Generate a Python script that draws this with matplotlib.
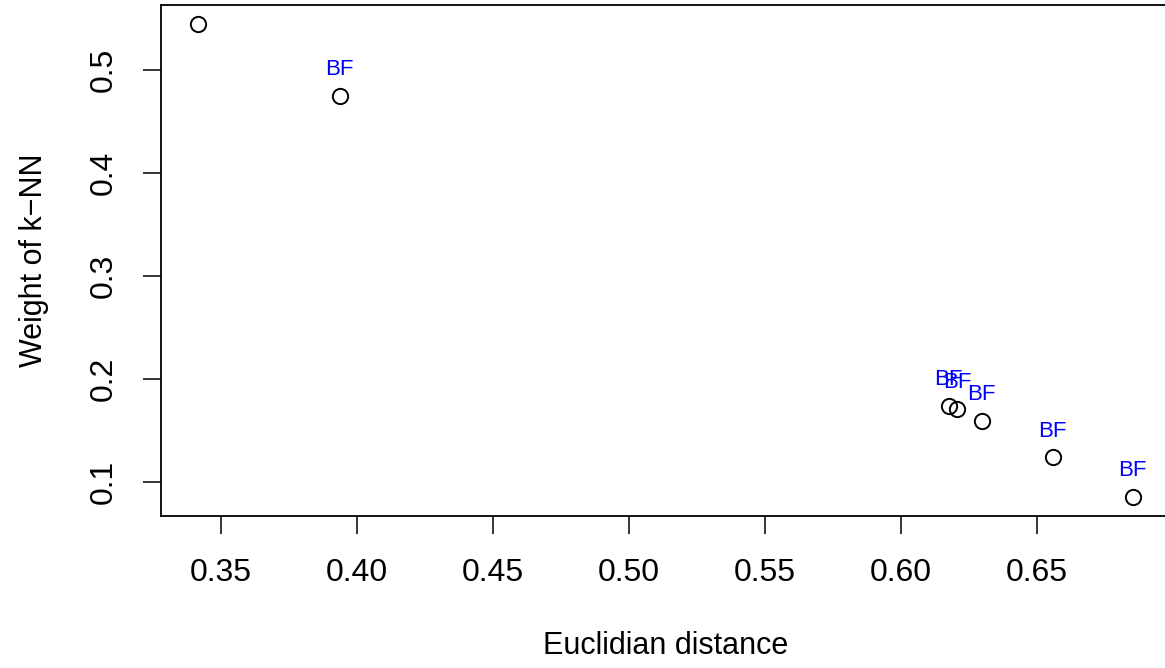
import numpy as np
import matplotlib.pyplot as plt

plt.rcParams['font.family'] = ['Liberation Sans', 'DejaVu Sans']

# euclidian distance vs weight of k-NN
dist = [0.3416, 0.3937, 0.6176, 0.6206, 0.6297, 0.6558, 0.6852]
weight = [0.5447, 0.4748, 0.174, 0.171, 0.159, 0.124, 0.0855]
labels = ['', 'BF', 'BF', 'BF', 'BF', 'BF', 'BF']

xticks = [0.35, 0.40, 0.45, 0.50, 0.55, 0.60, 0.65]
yticks = [0.1, 0.2, 0.3, 0.4, 0.5]

fig = plt.figure(figsize=(11.65, 6.68), dpi=100)
# right edge of the box falls just outside the image, like the original
ax = fig.add_axes([0.138, 0.2275, 0.8664, 0.765])

ax.plot(dist, weight, linestyle='none', marker='o', markersize=11,
        markerfacecolor='none', markeredgecolor='black', markeredgewidth=1.4)
for x, y, lab in zip(dist, weight, labels):
    if lab:
        ax.annotate(lab, (x, y), xytext=(0, 19), textcoords='offset points',
                    ha='center', va='center', color='#0000ff', fontsize=16)

ax.margins(0.04)
ax.set_xticks(xticks)
ax.set_xticklabels(['%.2f' % t for t in xticks])
ax.set_yticks(yticks)
ax.set_yticklabels(['%.1f' % t for t in yticks], rotation=90, va='center')
ax.tick_params(direction='out', length=13, width=1.1, labelsize=23, pad=17)
for s in ax.spines.values():
    s.set_linewidth(1.3)

ax.set_xlabel('Euclidian distance', fontsize=22, labelpad=31)
ax.set_ylabel('Weight of k\u2212NN', fontsize=22, labelpad=29)

fig.savefig('out.png', dpi=100)
